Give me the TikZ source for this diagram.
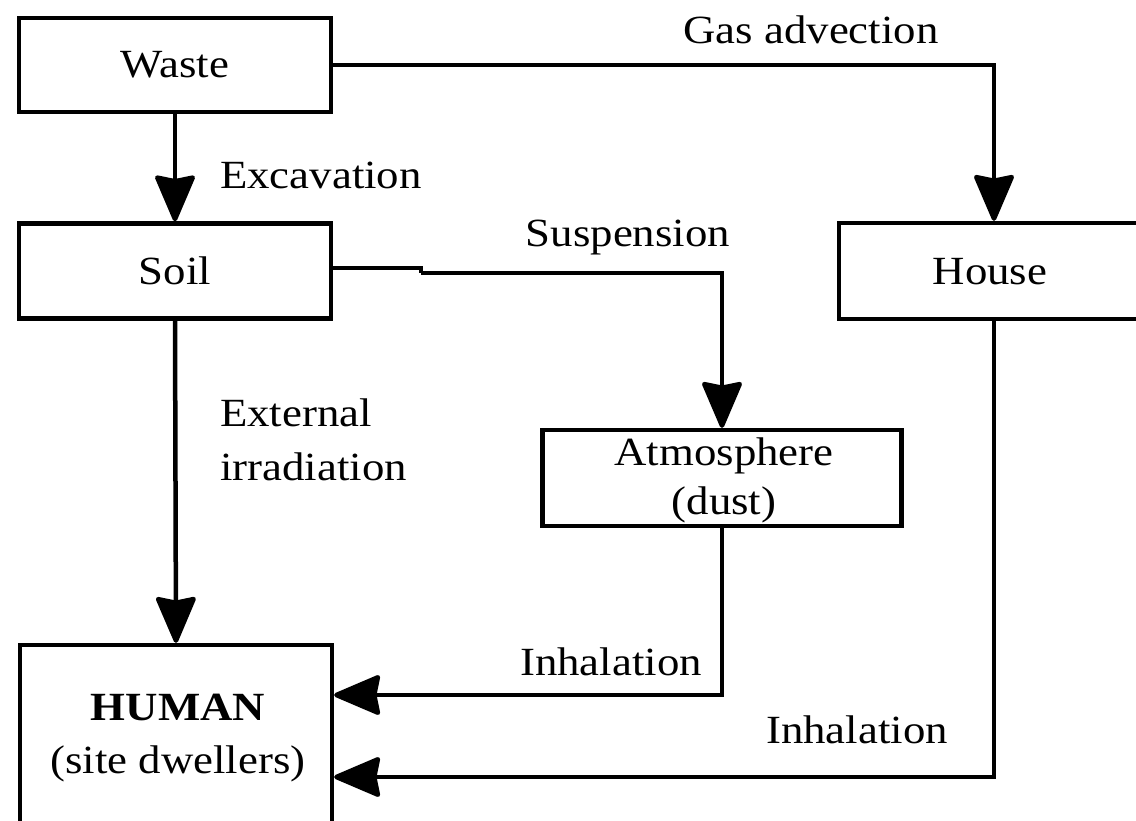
\documentclass[tikz,border=0pt]{standalone}
\usepackage{fontspec}
\setmainfont{Liberation Serif}
\usetikzlibrary{arrows.meta}
\newcommand{\hst}[1]{\scalebox{1.12}[1]{#1}}
\tikzset{
  box/.style={draw, line width=4.2pt, inner sep=0pt, rectangle},
  lbl/.style={inner sep=0pt, font=\fontsize{40}{52}\selectfont},
  conn/.style={line width=4.5pt},
  arr/.style={conn, -{Stealth[length=50pt,width=42pt,inset=4pt,round]}}
}
\begin{document}
\begin{tikzpicture}[x=1pt,y=-1pt]
\useasboundingbox (0,0) rectangle (1136,821);
\clip (0,0) rectangle (1136,821);
\fill[white] (0,0) rectangle (1136,821);
% boxes
\node[box, minimum width=312pt, minimum height=94pt] (waste) at (175,65) {};
\node[lbl] at (waste.center) {\hst{Waste}};
\node[box, minimum width=312pt, minimum height=95pt] (soil) at (175,271) {};
\node[lbl] at (soil.center) {\hst{Soil}};
\node[box, minimum width=310pt, minimum height=96pt] (house) at (994,271) {};
\node[lbl] at (990,272) {\hst{House}};
\node[box, minimum width=359pt, minimum height=96pt] (atmo) at (722,478) {};
\node[lbl, align=center, font=\fontsize{40}{49}\selectfont] at (724,480) {\hst{Atmosphere}\\\hst{(dust)}};
\node[box, minimum width=312pt, minimum height=254pt] (human) at (176,772) {};
\node[lbl, align=center, font=\fontsize{40}{53}\selectfont] at (178,738) {\hst{\textbf{HUMAN}}\\\hst{(site dwellers)}};
% connectors
\coordinate (s1) at (421,268);
\coordinate (s2) at (421,273);
\draw[arr] (waste.south) -- (soil.north);
\draw[arr] (waste.east) -| (house.north);
\draw[conn] (soil.east |- s1) -- (s1) -- (s2);
\draw[arr] (s2) -| (atmo.north);
\draw[arr] (soil.south) -- (human.north);
\draw[arr] (atmo.south) |- ([yshift=77pt]human.east);
\draw[arr] (house.south) |- ([yshift=-5pt]human.east);
% labels
\node[lbl] at (811,30) {\hst{Gas advection}};
\node[lbl, anchor=west] at (220,175) {\hst{Excavation}};
\node[lbl] at (628,238) {\hst{Suspension}};
\node[lbl, anchor=west, align=left, font=\fontsize{40}{54}\selectfont] at (220,440) {\hst{External}\\\hst{irradiation}};
\node[lbl] at (611,662) {\hst{Inhalation}};
\node[lbl] at (857,730) {\hst{Inhalation}};
\end{tikzpicture}
\end{document}
